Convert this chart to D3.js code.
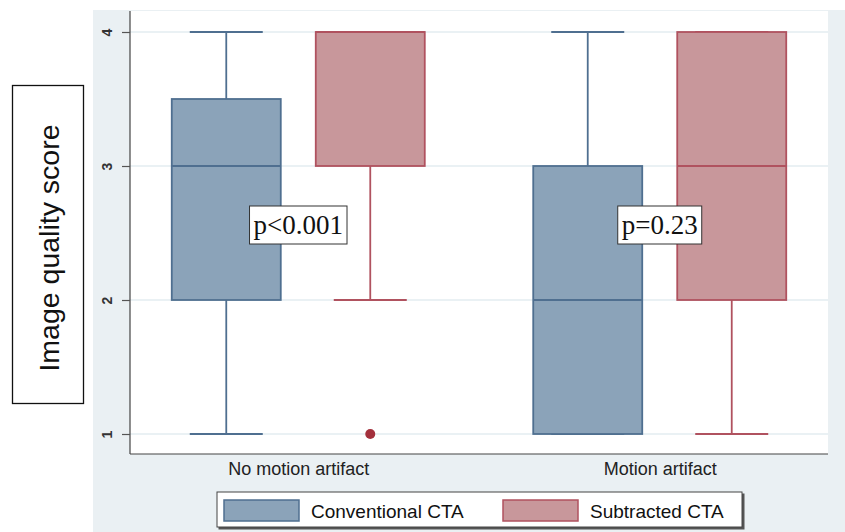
<!DOCTYPE html>
<html>
<head>
<meta charset="utf-8">
<script src="https://cdn.jsdelivr.net/npm/d3@7"></script>
<style>
  html, body { margin: 0; padding: 0; background: #ffffff; }
  svg { display: block; }
</style>
</head>
<body>
<svg id="chart" width="845" height="532"></svg>
<script>
// Groups and series
const categories = ["No motion artifact", "Motion artifact"];
const seriesNames = ["Conventional CTA", "Subtracted CTA"];

// Box summaries per group: [min, q1, median, q3, max]
const conventionalStats = [
  [1, 2, 3, 3.5, 4],
  [1, 1, 2, 3, 4]
];
const subtractedStats = [
  [2, 3, 4, 4, 4],
  [1, 2, 3, 4, 4]
];
// Outliers per group
const conventionalOutliers = [[], []];
const subtractedOutliers = [[1], []];

const yTicks = [1, 2, 3, 4];
const pLabels = ["p<0.001", "p=0.23"];

const colors = {
  "Conventional CTA": { fill: "#8ba3b9", stroke: "#4f6f90" },
  "Subtracted CTA": { fill: "#c8979b", stroke: "#b0525f", dot: "#a3303c" }
};

const svg = d3.select("#chart");

// Outer panel
const panel = { x: 93, y: 10, w: 752, h: 522 };
const plot = { left: 130, right: 828, top: 11, bottom: 454 };

svg.append("rect")
  .attr("x", panel.x).attr("y", panel.y)
  .attr("width", panel.w).attr("height", panel.h)
  .attr("fill", "#eaf0f3");

svg.append("rect")
  .attr("x", plot.left).attr("y", plot.top)
  .attr("width", plot.right - plot.left).attr("height", plot.bottom - plot.top)
  .attr("fill", "#ffffff");

const y = d3.scaleLinear().domain([1, 4]).range([434, 32]);
const x = d3.scalePoint().domain(categories).range([plot.left, plot.right]).padding(0.4655);
const xSub = d3.scalePoint().domain(seriesNames).range([-72, 72]);

const boxW = 109, capW = 73;

// Grid lines
svg.append("g").selectAll("line").data(yTicks).join("line")
  .attr("x1", plot.left).attr("x2", plot.right)
  .attr("y1", d => y(d)).attr("y2", d => y(d))
  .attr("stroke", "#e3edf0").attr("stroke-width", 1.5);

// Y axis
const yAxis = svg.append("g")
  .attr("transform", `translate(${plot.left},0)`)
  .call(d3.axisLeft(y).tickValues(yTicks).tickFormat(d3.format("d")).tickSize(8).tickPadding(5));
yAxis.select(".domain").attr("stroke", "#444").attr("stroke-width", 1.2)
  .attr("d", `M0,${plot.top}V${plot.bottom}`);
yAxis.selectAll(".tick line").attr("stroke", "#555").attr("stroke-width", 1.2);
yAxis.selectAll(".tick text")
  .attr("font-family", "Liberation Sans, Arial, sans-serif")
  .attr("font-size", 14).attr("font-weight", "bold").attr("fill", "#333")
  .attr("text-anchor", "middle")
  .attr("dy", null)
  .attr("x", null)
  .attr("transform", "translate(-23,0) rotate(-90)")
  .attr("dominant-baseline", "central");

// X axis
const xAxis = svg.append("g")
  .attr("transform", `translate(0,${plot.bottom})`)
  .call(d3.axisBottom(x).tickSize(0).tickPadding(8));
xAxis.select(".domain").attr("stroke", "#444").attr("stroke-width", 1.2)
  .attr("d", `M${plot.left},0H${plot.right}`);
xAxis.selectAll(".tick text")
  .attr("font-family", "Liberation Sans, Arial, sans-serif")
  .attr("font-size", 18).attr("fill", "#222");

// Boxes
function drawBoxes(name, stats, outliers) {
  const c = colors[name];
  const g = svg.append("g");
  stats.forEach((s, i) => {
    const cx = x(categories[i]) + xSub(name);
    const [mn, q1, med, q3, mx] = s;
    // whiskers
    g.append("line").attr("x1", cx).attr("x2", cx).attr("y1", y(q3)).attr("y2", y(mx))
      .attr("stroke", c.stroke).attr("stroke-width", 1.8);
    g.append("line").attr("x1", cx).attr("x2", cx).attr("y1", y(q1)).attr("y2", y(mn))
      .attr("stroke", c.stroke).attr("stroke-width", 1.8);
    // caps
    [mn, mx].forEach(v => {
      g.append("line").attr("x1", cx - capW / 2).attr("x2", cx + capW / 2)
        .attr("y1", y(v)).attr("y2", y(v))
        .attr("stroke", c.stroke).attr("stroke-width", 1.8);
    });
    // box
    g.append("rect").attr("x", cx - boxW / 2).attr("width", boxW)
      .attr("y", y(q3)).attr("height", y(q1) - y(q3))
      .attr("fill", c.fill).attr("stroke", c.stroke).attr("stroke-width", 1.8);
    // median
    g.append("line").attr("x1", cx - boxW / 2).attr("x2", cx + boxW / 2)
      .attr("y1", y(med)).attr("y2", y(med))
      .attr("stroke", c.stroke).attr("stroke-width", 1.8);
    // outliers
    outliers[i].forEach(v => {
      g.append("circle").attr("cx", cx).attr("cy", y(v)).attr("r", 5)
        .attr("fill", c.dot || c.stroke);
    });
  });
}
drawBoxes("Conventional CTA", conventionalStats, conventionalOutliers);
drawBoxes("Subtracted CTA", subtractedStats, subtractedOutliers);

// p-value labels
pLabels.forEach((t, i) => {
  const cx = x(categories[i]);
  const cy = 225;
  const g = svg.append("g");
  const txt = g.append("text").attr("x", cx).attr("y", cy)
    .attr("text-anchor", "middle").attr("dominant-baseline", "central")
    .attr("font-family", "Liberation Serif, 'DejaVu Serif', serif")
    .attr("font-size", 27).attr("fill", "#111").text(t);
  const bb = txt.node().getBBox();
  g.insert("rect", "text")
    .attr("x", bb.x - 4).attr("y", cy - 19)
    .attr("width", bb.width + 8).attr("height", 38)
    .attr("fill", "#ffffff").attr("stroke", "#333").attr("stroke-width", 1);
});

// Legend
const lg = svg.append("g");
lg.append("rect").attr("x", 218.5).attr("y", 493.5).attr("width", 526).attr("height", 36)
  .attr("fill", "#555");
lg.append("rect").attr("x", 217).attr("y", 492).attr("width", 525).attr("height", 35)
  .attr("fill", "#ffffff").attr("stroke", "#444").attr("stroke-width", 1);
const legendItems = [
  { name: "Conventional CTA", sx: 224, tx: 311 },
  { name: "Subtracted CTA", sx: 503, tx: 590 }
];
legendItems.forEach(it => {
  const c = colors[it.name];
  lg.append("rect").attr("x", it.sx).attr("y", 500).attr("width", 75).attr("height", 21)
    .attr("fill", c.fill).attr("stroke", c.stroke).attr("stroke-width", 1.5);
  lg.append("text").attr("x", it.tx).attr("y", 511).attr("dominant-baseline", "central")
    .attr("font-family", "Liberation Sans, Arial, sans-serif")
    .attr("font-size", 19).attr("fill", "#111").text(it.name);
});

// Y axis title in a box
const tg = svg.append("g");
tg.append("rect").attr("x", 12.5).attr("y", 85.5).attr("width", 71).attr("height", 318)
  .attr("fill", "#ffffff").attr("stroke", "#111").attr("stroke-width", 1.3);
tg.append("text")
  .attr("transform", "translate(49,248) rotate(-90)")
  .attr("text-anchor", "middle").attr("dominant-baseline", "central")
  .attr("font-family", "Liberation Sans, Arial, sans-serif")
  .attr("font-size", 28.5).attr("fill", "#111")
  .text("Image quality score");
</script>
</body>
</html>
